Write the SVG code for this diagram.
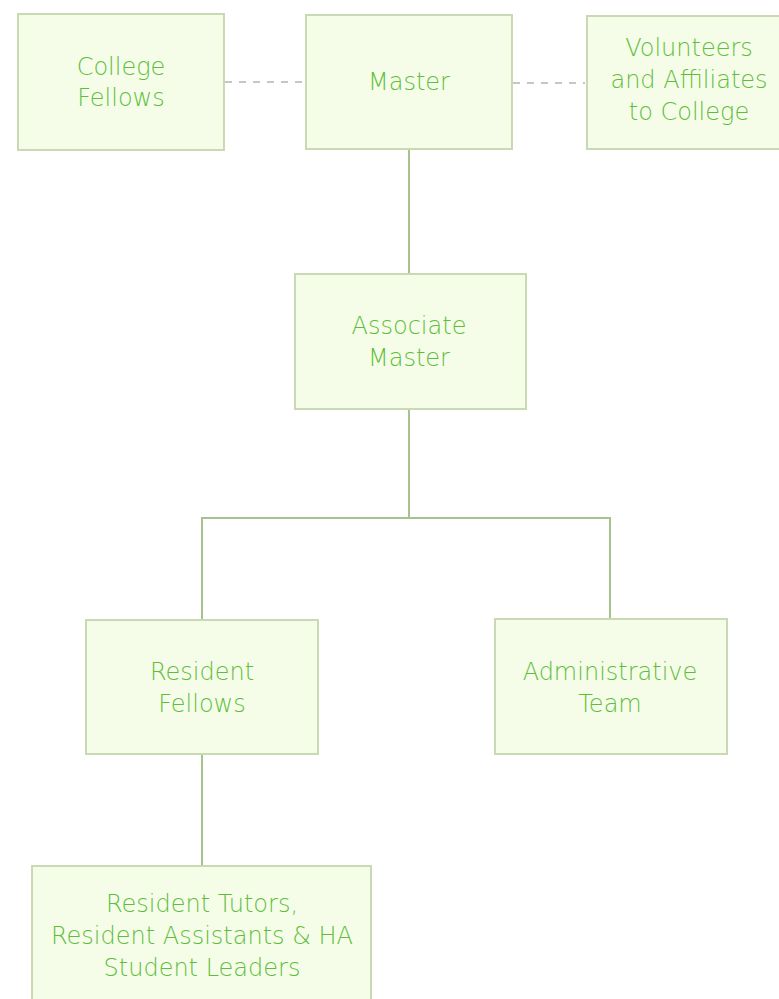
<svg xmlns="http://www.w3.org/2000/svg" width="779" height="999" viewBox="0 0 779 999">
<style>
.box{fill:#f5fde9;stroke:#c9d9b3;stroke-width:2}
.lbl{font-family:"DejaVu Sans","Liberation Sans",sans-serif;font-size:24px;font-weight:200;fill:#5fbd3c;text-anchor:middle}
.con{fill:none;stroke:#a6c38c;stroke-width:2}
.dash{fill:none;stroke:#c4c8c0;stroke-width:2;stroke-dasharray:7,7}
</style>
<rect width="779" height="999" fill="#ffffff"/>
<g id="connectors">
<line class="dash" x1="225" y1="82" x2="305" y2="82"/>
<line class="dash" x1="513" y1="83" x2="585" y2="83"/>
<line class="con" x1="409" y1="149" x2="409" y2="274"/>
<polyline class="con" points="202,620 202,518 610,518 610,619"/>
<line class="con" x1="409" y1="409" x2="409" y2="518"/>
<line class="con" x1="202" y1="754" x2="202" y2="866"/>
</g>
<g id="college-fellows">
<rect class="box" x="18" y="14" width="206" height="136"/>
<text class="lbl" x="121" y="75">College</text>
<text class="lbl" x="121" y="106">Fellows</text>
</g>
<g id="master">
<rect class="box" x="306" y="15" width="206" height="134"/>
<text class="lbl" x="409" y="90">Master</text>
</g>
<g id="volunteers">
<rect class="box" x="587" y="16" width="200" height="133"/>
<text class="lbl" x="689" y="56">Volunteers</text>
<text class="lbl" x="689" y="88">and Affiliates</text>
<text class="lbl" x="689" y="120">to College</text>
</g>
<g id="associate-master">
<rect class="box" x="295" y="274" width="231" height="135"/>
<text class="lbl" x="409" y="334">Associate</text>
<text class="lbl" x="409" y="366">Master</text>
</g>
<g id="resident-fellows">
<rect class="box" x="86" y="620" width="232" height="134"/>
<text class="lbl" x="202" y="680">Resident</text>
<text class="lbl" x="202" y="712">Fellows</text>
</g>
<g id="administrative-team">
<rect class="box" x="495" y="619" width="232" height="135"/>
<text class="lbl" x="610" y="680">Administrative</text>
<text class="lbl" x="610" y="712">Team</text>
</g>
<g id="resident-tutors">
<rect class="box" x="32" y="866" width="339" height="140"/>
<text class="lbl" x="202" y="912">Resident Tutors,</text>
<text class="lbl" x="202" y="944">Resident Assistants &amp; HA</text>
<text class="lbl" x="202" y="976">Student Leaders</text>
</g>
</svg>
